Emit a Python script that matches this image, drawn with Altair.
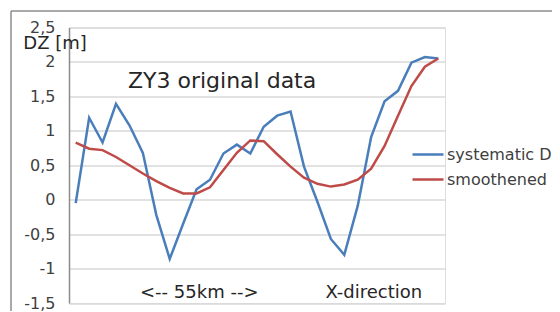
import altair as alt
import pandas as pd

# ---- data ----
positions = list(range(28))
systematic_dz = [-0.05, 1.19, 0.83, 1.39, 1.08, 0.68, -0.22, -0.86, -0.35, 0.15,
                 0.29, 0.67, 0.80, 0.67, 1.06, 1.22, 1.28, 0.48, -0.03, -0.57,
                 -0.80, -0.09, 0.91, 1.43, 1.58, 1.99, 2.07, 2.05]
smoothened = [0.83, 0.74, 0.72, 0.62, 0.50, 0.38, 0.27, 0.17, 0.09, 0.09,
              0.18, 0.43, 0.68, 0.86, 0.85, 0.66, 0.48, 0.32, 0.23, 0.19,
              0.22, 0.29, 0.45, 0.78, 1.22, 1.65, 1.93, 2.05]
series_names = ["systematic DZ", "smoothened"]
series_colors = ["#4a7ebb", "#be4b48"]
y_ticks = [-1.5, -1.0, -0.5, 0.0, 0.5, 1.0, 1.5, 2.0, 2.5]

ann_text = ["ZY3 original data", "<-- 55km -->", "X-direction"]
ann_x = [10.9, 9.2, 22.2]
ann_y = [1.72, -1.36, -1.36]
ann_size = [22, 18, 18]

FONT = "DejaVu Sans"
TXT = "#262626"

df = pd.DataFrame({
    "i": positions * 2,
    "dz": systematic_dz + smoothened,
    "series": [series_names[0]] * len(positions) + [series_names[1]] * len(positions),
})
ann = pd.DataFrame({"text": ann_text, "i": ann_x, "dz": ann_y, "size": ann_size})
ylab = pd.DataFrame({"text": ["DZ [m]"], "i": [-3.9], "dz": [2.19]})

xs = alt.Scale(domain=[-0.5, 27.5])
ys = alt.Scale(domain=[-1.5, 2.5], nice=False, zero=False)
yaxis = alt.Axis(
    values=y_ticks, title=None, grid=True, gridColor="#d9d9d9", gridWidth=1.5,
    domainColor="#8c8c8c", domainWidth=1.5, ticks=False, labelPadding=14,
    labelFontSize=16, labelFont=FONT, labelColor="#404040", labelOverlap=False,
    labelFlush=False, labelExpr="replace(toString(datum.value), '.', ',')")
X = alt.X("i:Q", scale=xs, axis=None)
Y = alt.Y("dz:Q", scale=ys, axis=yaxis)

lines = alt.Chart(df).mark_line(strokeWidth=2.5).encode(
    x=X, y=Y,
    color=alt.Color("series:N", scale=alt.Scale(domain=series_names, range=series_colors),
                    legend=alt.Legend(orient="none", legendX=342, legendY=110, title=None,
                                      symbolType="stroke", symbolSize=961,
                                      symbolStrokeWidth=2.5, labelFont=FONT,
                                      labelFontSize=16, labelColor="#404040",
                                      labelOffset=2, rowPadding=-1, padding=0,
                                      labelLimit=300)),
)

texts = alt.Chart(ann).mark_text(font=FONT, color=TXT, align="center", baseline="middle").encode(
    x=X, y=Y, text="text:N",
    size=alt.Size("size:Q", scale=None, legend=None),
)

dz_label = alt.Chart(ylab).mark_text(font=FONT, color=TXT, align="left", baseline="alphabetic",
                                     fontSize=18).encode(x=X, y=Y, text="text:N")

border_left = alt.Chart(pd.DataFrame({"k": [0]})).mark_rule(color="#8c8c8c", strokeWidth=1.5).encode(
    x=alt.value(-58), y=alt.value(-16.5), y2=alt.value(300))
border_top = alt.Chart(pd.DataFrame({"k": [0]})).mark_rule(color="#8c8c8c", strokeWidth=1.5).encode(
    x=alt.value(-58), x2=alt.value(600), y=alt.value(-16.5))

chart = alt.layer(lines, texts, dz_label, border_left, border_top).properties(
    width=376, height=275.5,
    autosize=alt.AutoSizeParams(type="none"),
    padding={"left": 61, "top": 19.5, "right": 107, "bottom": 8},
).configure_view(strokeWidth=0, stroke="transparent").configure(background="white")

chart.save("out.html", embed_options={"renderer": "svg", "actions": False})
